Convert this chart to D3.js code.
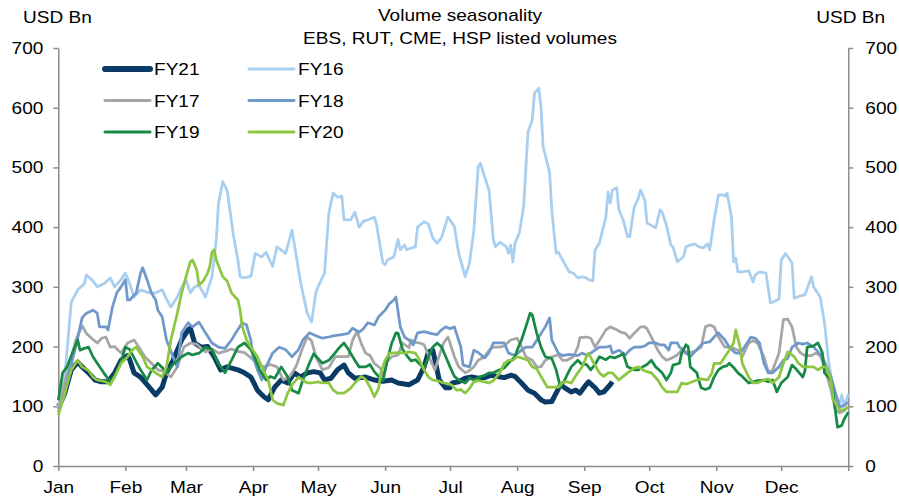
<!DOCTYPE html>
<html>
<head>
<meta charset="utf-8">
<script src="https://cdn.jsdelivr.net/npm/d3@7"></script>
<style>
body { margin: 0; background: #fff; }
svg text { font-family: "Liberation Sans", Arial, sans-serif; font-size: 17px; fill: #000; }
.axis .domain, .axis .tick line { stroke: #8c8c8c; stroke-width: 1.5px; }
</style>
</head>
<body>
<div id="chart"></div>
<script>
// values are [day of year, USD bn]
var fy21 = [[0,100],[1,105],[3,122],[6,161],[9,174],[11,166],[14,156],[17,144],[20,141],[23,141],[26,156],[29,177],[32,185],[33,178],[35,156],[38,149],[42,132],[45,119],[48,132],[50,156],[53,177],[57,211],[60,228],[61,231],[63,206],[66,199],[69,200],[72,183],[75,161],[78,166],[83,161],[86,156],[89,149],[92,127],[95,116],[97,111],[100,132],[103,144],[106,139],[109,156],[112,149],[115,156],[118,158],[121,156],[123,144],[126,147],[129,161],[132,169],[134,156],[137,147],[142,149],[146,144],[150,142],[154,144],[157,139],[162,136],[166,144],[169,166],[171,191],[173,194],[175,161],[176,144],[179,131],[181,131],[182,139],[185,141],[188,147],[191,149],[194,147],[197,148],[200,152],[203,150],[206,148],[209,152],[211,150],[214,139],[217,127],[220,122],[223,111],[225,107],[228,108],[230,122],[232,136],[234,131],[237,124],[239,127],[241,122],[243,132],[245,141],[248,131],[250,122],[252,124],[255,136],[256,141]];

var fy16 = [[0,100],[3,150],[6,275],[9,295],[12,305],[13,320],[16,310],[18,300],[21,305],[24,315],[26,300],[29,312],[31,323],[33,305],[35,283],[38,295],[42,290],[45,290],[48,295],[50,280],[52,266],[55,283],[57,300],[59,312],[61,290],[63,300],[65,303],[68,283],[71,317],[73,379],[74,440],[76,476],[78,462],[81,384],[83,345],[84,317],[86,315],[89,318],[91,356],[94,350],[96,358],[99,334],[101,367],[105,356],[108,395],[109,373],[112,306],[115,256],[117,241],[119,290],[120,300],[123,323],[125,424],[127,457],[129,450],[131,452],[132,412],[135,412],[137,425],[139,400],[141,410],[143,412],[146,417],[147,405],[150,340],[151,337],[152,345],[155,350],[157,379],[158,362],[160,370],[161,362],[163,365],[165,367],[166,400],[169,409],[171,405],[173,382],[175,373],[177,382],[180,417],[181,412],[183,401],[185,356],[188,317],[190,340],[192,395],[194,501],[195,507],[197,484],[199,462],[201,379],[202,367],[204,375],[206,370],[207,367],[208,356],[209,370],[210,342],[211,373],[213,390],[215,434],[217,559],[219,580],[220,624],[222,633],[223,601],[224,535],[227,491],[228,429],[230,356],[231,358],[233,345],[236,325],[238,323],[240,315],[242,317],[244,315],[245,312],[247,310],[248,362],[250,373],[253,417],[254,459],[255,440],[256,462],[258,466],[259,429],[261,412],[263,384],[264,384],[266,432],[268,449],[269,462],[271,445],[272,407],[274,403],[276,399],[278,429],[279,425],[281,403],[283,370],[284,367],[286,342],[288,348],[289,352],[290,367],[292,370],[294,372],[296,367],[298,365],[300,372],[301,362],[303,412],[305,454],[307,454],[308,452],[309,457],[311,417],[312,342],[313,348],[314,325],[316,325],[319,327],[321,308],[322,320],[324,325],[327,323],[329,273],[331,276],[333,280],[334,345],[336,356],[339,340],[340,281],[343,285],[345,287],[348,317],[349,300],[352,283],[354,240],[356,172],[359,111],[361,105],[362,119],[363,100],[365,120]];

var fy17 = [[0,95],[3,140],[6,180],[8,210],[11,235],[13,222],[16,212],[18,206],[20,214],[22,216],[24,199],[26,200],[29,189],[32,206],[35,211],[37,200],[40,183],[43,172],[46,161],[49,158],[52,149],[55,166],[58,199],[61,206],[64,204],[68,191],[71,196],[74,189],[77,192],[80,196],[83,192],[86,190],[89,181],[92,172],[95,166],[98,170],[101,166],[104,144],[107,150],[110,168],[113,199],[115,216],[117,210],[119,183],[122,161],[125,165],[128,183],[131,183],[134,183],[136,211],[138,225],[140,205],[142,189],[144,185],[146,172],[149,163],[150,149],[152,175],[154,183],[157,186],[159,206],[162,198],[163,211],[165,207],[167,206],[169,203],[172,177],[174,161],[176,185],[178,206],[180,216],[181,206],[183,183],[185,166],[188,156],[190,160],[192,166],[194,177],[197,183],[199,194],[201,199],[204,199],[206,201],[209,211],[212,214],[214,200],[216,183],[219,177],[221,166],[223,166],[225,177],[228,183],[231,186],[233,177],[235,177],[238,183],[240,199],[241,215],[244,216],[246,214],[248,199],[251,216],[253,228],[255,233],[257,230],[260,224],[262,222],[264,214],[266,222],[269,233],[271,233],[272,230],[274,216],[277,194],[279,183],[281,177],[283,180],[286,186],[288,194],[290,188],[293,191],[295,194],[297,199],[299,233],[301,236],[303,233],[305,216],[308,199],[311,199],[314,194],[316,183],[319,206],[321,210],[323,206],[326,183],[328,158],[330,160],[333,189],[335,245],[337,246],[339,233],[341,199],[343,189],[345,185],[348,185],[350,189],[352,185],[354,166],[357,127],[359,94],[361,89],[363,92],[365,99]];

var fy18 = [[0,90],[3,120],[5,156],[8,199],[11,248],[13,256],[16,261],[18,256],[19,233],[22,233],[23,228],[25,266],[27,290],[29,300],[31,312],[32,278],[33,278],[36,290],[38,323],[39,332],[41,312],[43,290],[45,278],[46,261],[48,250],[50,211],[53,183],[55,166],[57,223],[60,240],[62,233],[65,241],[68,223],[71,206],[74,199],[77,197],[80,211],[82,223],[85,240],[87,236],[89,210],[90,183],[92,161],[94,144],[96,166],[99,189],[102,199],[105,195],[108,183],[111,195],[113,211],[116,223],[119,218],[122,214],[125,216],[127,218],[131,220],[134,222],[136,231],[139,224],[141,230],[143,240],[146,236],[148,250],[151,261],[153,272],[155,278],[156,283],[158,233],[160,216],[162,211],[164,203],[166,223],[169,225],[172,222],[175,220],[177,228],[179,233],[181,230],[183,233],[186,199],[187,169],[190,166],[192,194],[194,190],[197,181],[199,190],[201,206],[204,206],[206,206],[208,189],[211,185],[214,194],[216,199],[219,199],[222,216],[225,233],[227,248],[228,211],[231,189],[233,185],[236,187],[240,185],[242,189],[244,186],[246,189],[248,194],[250,199],[253,199],[255,201],[256,189],[259,194],[262,186],[264,194],[266,199],[269,199],[271,201],[273,206],[276,206],[278,203],[280,203],[282,194],[283,206],[286,206],[287,199],[289,194],[292,183],[294,191],[296,199],[298,206],[301,208],[303,216],[305,223],[308,211],[310,199],[313,189],[315,189],[317,199],[320,216],[322,214],[324,206],[326,172],[328,156],[330,156],[333,166],[335,177],[337,180],[339,199],[342,206],[344,204],[346,206],[349,199],[351,191],[353,183],[355,166],[357,149],[360,111],[361,99],[363,101],[365,107]];

var fy19 = [[0,110],[2,156],[4,166],[7,194],[9,211],[10,194],[12,197],[14,199],[16,183],[18,172],[21,156],[24,141],[26,150],[29,175],[31,199],[33,195],[35,181],[38,161],[41,144],[43,160],[46,172],[48,165],[50,156],[53,170],[57,183],[60,189],[62,186],[65,189],[68,199],[71,195],[74,172],[77,156],[80,177],[83,199],[86,206],[89,195],[91,180],[93,161],[96,144],[98,150],[100,147],[103,166],[106,149],[108,127],[111,122],[113,144],[116,172],[118,188],[120,180],[122,172],[125,177],[128,190],[130,199],[132,206],[134,195],[137,177],[139,166],[142,166],[144,170],[146,158],[149,146],[150,143],[152,177],[154,205],[156,223],[157,222],[159,196],[161,185],[163,176],[165,178],[169,163],[171,183],[173,199],[175,206],[177,200],[179,183],[181,166],[183,150],[185,144],[188,139],[190,147],[192,144],[194,148],[197,152],[199,156],[201,156],[204,161],[206,164],[208,172],[211,183],[212,194],[214,211],[216,233],[218,256],[219,253],[221,223],[223,199],[225,183],[228,180],[230,161],[232,132],[234,144],[235,152],[237,166],[240,177],[242,170],[244,170],[246,161],[248,170],[250,183],[253,178],[255,183],[257,181],[260,186],[261,188],[263,166],[266,161],[268,161],[270,166],[272,170],[274,177],[276,166],[279,156],[281,144],[283,156],[284,169],[287,172],[288,189],[290,203],[291,200],[292,166],[295,156],[297,131],[299,128],[301,131],[303,149],[305,161],[307,166],[309,168],[310,172],[312,165],[314,156],[316,150],[319,139],[321,141],[323,143],[326,144],[328,141],[330,144],[332,124],[334,139],[337,149],[339,169],[341,162],[344,149],[345,160],[346,199],[349,201],[351,206],[353,190],[354,156],[357,144],[358,122],[360,65],[362,68],[363,78],[365,90]];

var fy20 = [[0,85],[3,122],[6,161],[9,177],[11,166],[14,160],[16,149],[18,144],[22,141],[24,136],[26,149],[29,172],[32,183],[34,194],[36,199],[39,183],[41,166],[45,156],[48,149],[50,166],[52,211],[55,256],[57,290],[59,317],[61,342],[62,345],[64,328],[65,303],[67,310],[69,323],[70,334],[71,358],[72,362],[73,345],[76,317],[78,310],[80,290],[83,278],[84,261],[85,233],[87,211],[89,199],[92,183],[94,166],[97,144],[99,111],[101,105],[104,102],[106,122],[108,136],[111,149],[113,144],[115,139],[117,139],[120,141],[122,139],[125,139],[127,127],[129,122],[132,122],[135,130],[137,139],[140,150],[142,145],[144,132],[146,116],[148,130],[149,156],[151,177],[153,189],[157,190],[160,189],[162,191],[165,189],[167,177],[169,161],[171,149],[173,144],[176,142],[178,139],[180,138],[182,135],[184,127],[186,128],[188,122],[190,130],[192,141],[194,143],[197,141],[199,139],[201,143],[204,156],[206,172],[208,177],[210,177],[212,183],[214,181],[217,177],[219,166],[221,163],[224,144],[226,132],[228,132],[231,132],[233,141],[235,141],[237,139],[240,156],[242,166],[244,183],[245,189],[247,175],[250,156],[252,150],[254,156],[256,156],[259,144],[261,150],[263,156],[266,164],[268,166],[270,161],[272,158],[274,156],[277,144],[279,132],[281,124],[284,124],[286,124],[288,139],[290,137],[293,141],[295,144],[297,146],[300,144],[302,156],[303,172],[306,172],[308,183],[310,194],[312,206],[313,228],[315,199],[316,172],[319,149],[321,139],[323,139],[326,144],[328,146],[330,139],[333,149],[335,172],[337,191],[340,183],[342,172],[344,166],[346,166],[349,166],[351,161],[353,166],[355,166],[357,144],[358,111],[361,94],[363,94],[365,99]];

var yTicks = [0, 100, 200, 300, 400, 500, 600, 700];

var series = [
    {name: "FY21", values: fy21, color: "#0a3a66", width: 5},
    {name: "FY16", values: fy16, color: "#a8cff0", width: 2.75},
    {name: "FY17", values: fy17, color: "#a6a6a6", width: 2.75},
    {name: "FY18", values: fy18, color: "#7098ca", width: 2.75},
    {name: "FY19", values: fy19, color: "#178a45", width: 2.75},
    {name: "FY20", values: fy20, color: "#8dc641", width: 2.75}
];

var W = 899, H = 501;
var textStretch = 1.12; // source chart text is a bit wider than Arial
var yearStart = Date.UTC(2021, 0, 1);
function toDate(day) { return new Date(yearStart + day * 864e5); }

var x = d3.scaleUtc().domain([toDate(0), toDate(365)]).range([58.3, 848.3]);
var y = d3.scaleLinear().domain([0, 700]).range([466, 48]);

var svg = d3.select("#chart").append("svg")
    .attr("width", W).attr("height", H);

// axes
var monthFmt = d3.utcFormat("%b");
svg.append("g")
    .attr("class", "axis")
    .attr("transform", "translate(0," + y(0) + ")")
    .call(d3.axisBottom(x)
        .ticks(d3.utcMonth.every(1))
        .tickFormat(function(d) { return d.getUTCFullYear() > 2021 ? "" : monthFmt(d); })
        .tickSize(5).tickSizeOuter(0).tickPadding(10));

svg.append("g")
    .attr("class", "axis")
    .attr("transform", "translate(" + x.range()[0] + ",0)")
    .call(d3.axisLeft(y).tickValues(yTicks).tickSize(5).tickSizeOuter(0).tickPadding(10));

svg.append("g")
    .attr("class", "axis")
    .attr("transform", "translate(" + x.range()[1] + ",0)")
    .call(d3.axisRight(y).tickValues(yTicks).tickSize(5).tickSizeOuter(0).tickPadding(12));

// lines
var line = d3.line()
    .x(function(d) { return x(toDate(d[0])); })
    .y(function(d) { return y(d[1]); });

svg.append("g").selectAll("path")
    .data(series)
    .enter()
    .append("path")
    .attr("d", function(d) { return line(d.values); })
    .attr("fill", "none")
    .attr("stroke", function(d) { return d.color; })
    .attr("stroke-width", function(d) { return d.width; })
    .attr("stroke-linejoin", "round");

// titles
svg.append("text").attr("x", 23).attr("y", 23).text("USD Bn");
svg.append("text").attr("x", 885).attr("y", 23).attr("text-anchor", "end").text("USD Bn");
svg.append("text").attr("x", 460).attr("y", 21).attr("text-anchor", "middle").text("Volume seasonality");
svg.append("text").attr("x", 460).attr("y", 44).attr("text-anchor", "middle").text("EBS, RUT, CME, HSP listed volumes");

// legend, two columns
var legend = svg.append("g").selectAll("g")
    .data(series)
    .enter()
    .append("g")
    .attr("transform", function(d, i) {
        return "translate(" + (105 + (i % 2) * 144) + "," + (69 + Math.floor(i / 2) * 31.5) + ")";
    });

legend.append("line")
    .attr("x1", 0).attr("x2", 45)
    .attr("stroke", function(d) { return d.color; })
    .attr("stroke-width", function(d) { return d.width === 5 ? 6 : 3; })
    .attr("stroke-linecap", "round");

legend.append("text")
    .attr("x", 49)
    .attr("dy", "0.36em")
    .text(function(d) { return d.name; });

// widen every label a little
svg.selectAll("text").each(function() {
    var len = this.getComputedTextLength();
    if (len > 0) {
        d3.select(this)
            .attr("textLength", len * textStretch)
            .attr("lengthAdjust", "spacingAndGlyphs");
    }
});
</script>
</body>
</html>
